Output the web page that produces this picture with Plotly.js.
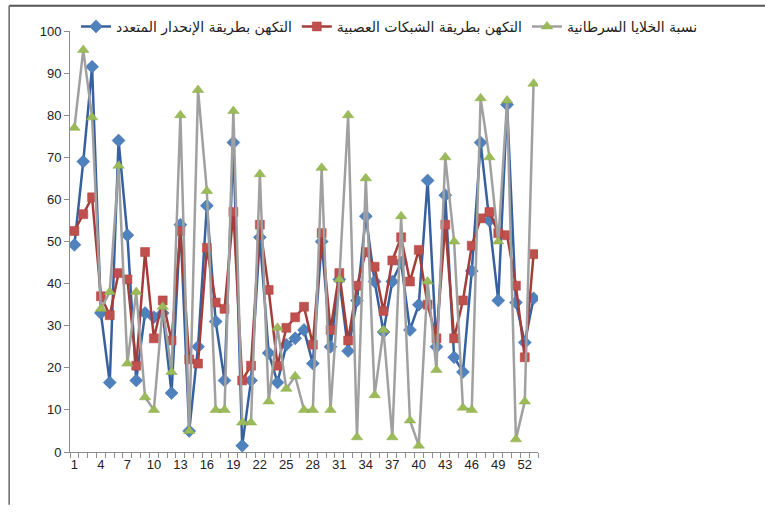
<!DOCTYPE html>
<html>
<head>
<meta charset="utf-8">
<script src="https://cdn.plot.ly/plotly-3.0.1.min.js"></script>
<style>html,body{margin:0;padding:0;background:#fff;}#chart{width:765px;height:524px;}</style>
</head>
<body>
<div id="chart"></div>
<script>
// Categories (observation number)
const categories = [1,2,3,4,5,6,7,8,9,10,11,12,13,14,15,16,17,18,19,20,21,22,23,24,25,26,27,28,29,30,31,32,33,34,35,36,37,38,39,40,41,42,43,44,45,46,47,48,49,50,51,52,53];
const tickValues = [1,4,7,10,13,16,19,22,25,28,31,34,37,40,43,46,49,52];
const tickLabels = ["1","4","7","10","13","16","19","22","25","28","31","34","37","40","43","46","49","52"];

const seriesNames = [
  "التكهن بطريقة الإنحدار المتعدد",
  "التكهن بطريقة الشبكات العصبية",
  "نسبة الخلايا السرطانية"
];

// Multiple regression forecast (blue)
const regression = [49.2,69,91.5,33,16.5,74,51.5,17,33,32,33,14,54,5,25,58.5,31,17,73.5,1.5,17,51,23.5,16.5,25.5,27,29,21,50,25,41,24,36,56,40.5,28.5,40.5,45,29,35,64.5,25,61,22.5,19,43,73.5,55,36,82.5,35.5,26,36.5];
// Neural network forecast (red)
const neural = [52.5,56.5,60.5,37,32.5,42.5,41,20.5,47.5,27,36,26.5,52.5,22,21,48.5,35.5,34,57,17,20.5,54,38.5,20.5,29.5,32,34.5,25.5,52,29,42.5,26.5,39.5,47.5,44,33.5,45.5,51,40.5,48,35,27,54,27,36,49,55.5,57,52,51.5,39.5,22.5,47];
// Cancer cell ratio (actual, green)
const actual = [77,95.5,79.5,34,38,68,21,38,13,10,34.5,19,80,5,86,62,10,10,81,7,7,66,12,29.5,15,18,10,10,67.5,10,41,80,3.5,65,13.5,29,3.5,56,7.5,1.5,40.5,19.5,70,50,10.5,10,84,70,50,83.5,3,12,87.5];

const traces = [
  {x: categories, y: regression, name: seriesNames[0], type: 'scatter', mode: 'lines+markers',
   line: {color: '#36609E', width: 2.5},
   marker: {symbol: 'diamond', size: 10, color: '#4F81BD', line: {color: '#3D6CA8', width: 0.5}}},
  {x: categories, y: neural, name: seriesNames[1], type: 'scatter', mode: 'lines+markers',
   line: {color: '#A33E3B', width: 2.5},
   marker: {symbol: 'square', size: 9, color: '#C0504D', line: {color: '#B0403D', width: 0.5}}},
  {x: categories, y: actual, name: seriesNames[2], type: 'scatter', mode: 'lines+markers',
   line: {color: '#A0A0A0', width: 2.5},
   marker: {symbol: 'triangle-up', size: 10, color: '#9BBB59', line: {color: '#8AAA48', width: 0.5}}}
];

const layout = {
  width: 765, height: 524,
  margin: {l: 70, r: 227, t: 31, b: 72, autoexpand: false},
  paper_bgcolor: '#fff', plot_bgcolor: '#fff',
  showlegend: true,
  legend: {orientation: 'h', x: 1.3526, xanchor: 'right', y: 1.01, yanchor: 'middle',
           font: {family: 'DejaVu Sans', size: 14, color: '#222'}, bgcolor: 'rgba(0,0,0,0)',
           traceorder: 'normal'},
  xaxis: {range: [0.5, 53.5], tickvals: tickValues, ticktext: tickLabels, ticks: '',
          showline: true, linecolor: '#8c8c8c', linewidth: 1, showgrid: false, zeroline: false,
          tickfont: {family: 'Liberation Sans', size: 13, color: '#222'},
          minor: {tick0: 0.5, dtick: 1, ticks: 'outside', ticklen: 5, tickcolor: '#8c8c8c', showgrid: false}},
  yaxis: {range: [0, 100], dtick: 10, ticks: 'outside', ticklen: 5, tickcolor: '#8c8c8c',
          showline: true, linecolor: '#8c8c8c', linewidth: 1, showgrid: false, zeroline: false,
          tickfont: {family: 'Liberation Sans', size: 13, color: '#222'}},
  shapes: [
    {type: 'line', xref: 'paper', yref: 'paper', x0: -0.13, x1: 1.6, y0: 1.06, y1: 1.06, line: {color: '#555', width: 2}},
    {type: 'line', xref: 'paper', yref: 'paper', x0: -0.13, x1: -0.13, y0: 1.06, y1: -0.125, line: {color: '#666', width: 1.5}}
  ]
};

Plotly.newPlot('chart', traces, layout, {displayModeBar: false, staticPlot: true});
</script>
</body>
</html>
